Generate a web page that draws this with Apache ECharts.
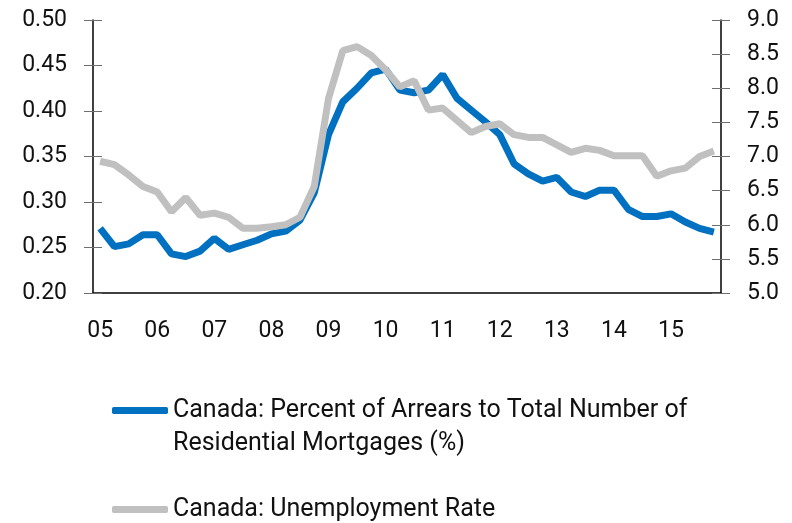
<!DOCTYPE html>
<html>
<head>
<meta charset="utf-8">
<script src="https://cdn.jsdelivr.net/npm/echarts@6/dist/echarts.min.js"></script>
<style>
html,body{margin:0;padding:0;background:#fff;}
#chart{width:792px;height:523px;}
</style>
</head>
<body>
<div id="chart"></div>
<script>
var years=['05','06','07','08','09','10','11','12','13','14','15'];
var quarters=[];
for(var y=0;y<years.length;y++){
	for(var q=1;q<=4;q++){ quarters.push(years[y]+'Q'+q); }
}
// arrears, % of residential mortgages (left axis)
var arrears=[0.271,0.251,0.254,0.264,0.264,0.243,0.240,0.246,0.260,0.248,0.253,0.258,
	0.265,0.268,0.280,0.310,0.374,0.410,0.425,0.442,0.446,0.423,0.420,0.423,
	0.440,0.414,0.401,0.388,0.374,0.342,0.331,0.323,0.327,0.311,0.306,0.313,
	0.313,0.292,0.284,0.284,0.287,0.278,0.271,0.267];
// unemployment rate, % (right axis)
var unemployment=[6.93,6.88,6.73,6.56,6.48,6.19,6.40,6.14,6.17,6.11,5.95,5.95,
	5.97,6.00,6.11,6.56,7.85,8.55,8.61,8.48,8.27,8.02,8.11,7.68,
	7.71,7.53,7.35,7.44,7.48,7.32,7.28,7.28,7.17,7.06,7.12,7.09,
	7.01,7.01,7.01,6.71,6.79,6.83,7.00,7.08];
var arrearsName='Canada: Percent of Arrears to Total Number of Residential Mortgages (%)';
var unempName='Canada: Unemployment Rate';

var font='Roboto';
var tickColor='#6e6e6e';
var el=echarts.init(document.getElementById('chart'));
var elData={
	animation:false,
	grid:{left:93,right:71,top:20,bottom:230,containLabel:false,outerBoundsMode:'none'},
	legend:[
		{
			// blank first line so the icon sits beside the first text line
			data:[arrearsName],left:112,top:361,padding:0,
			orient:'vertical',icon:'roundRect',itemWidth:56,itemHeight:7,
			formatter:function(){ return ' \nCanada: Percent of Arrears to Total Number of\nResidential Mortgages (%)'; },
			textStyle:{fontFamily:font,fontSize:25,color:'#111',lineHeight:33}
		},
		{
			data:[unempName],left:112,top:493,padding:0,
			orient:'vertical',icon:'roundRect',itemWidth:56,itemHeight:7,
			textStyle:{fontFamily:font,fontSize:25,color:'#111',lineHeight:33}
		}
	],
	xAxis:[
		{
			type:'category',data:quarters,boundaryGap:true,
			axisLine:{lineStyle:{color:'#000',width:1.5}},
			axisTick:{interval:3,length:9,lineStyle:{color:tickColor}},
			axisLabel:{interval:3,margin:27,fontFamily:font,fontSize:23,color:'#111',
				formatter:function(v){ return v.slice(0,2); }},
			splitLine:{show:false}
		},
		{
			type:'category',data:quarters,boundaryGap:true,position:'bottom',
			axisLine:{show:false},
			axisTick:{interval:3,length:9,inside:true,lineStyle:{color:tickColor}},
			axisLabel:{show:false},splitLine:{show:false}
		}
	],
	yAxis:[
		{
			type:'value',position:'left',min:0.2,max:0.5,interval:0.05,
			axisLine:{show:true,lineStyle:{color:'#000',width:1.5}},
			axisTick:{show:true,length:9,lineStyle:{color:tickColor}},
			axisLabel:{margin:26,fontFamily:font,fontSize:23,color:'#111',
				formatter:function(v){ return v.toFixed(2); }},
			splitLine:{show:false}
		},
		{
			type:'value',position:'right',min:5,max:9,interval:0.5,
			axisLine:{show:true,lineStyle:{color:'#000',width:1.5}},
			axisTick:{show:true,length:9,lineStyle:{color:tickColor}},
			axisLabel:{margin:26,fontFamily:font,fontSize:23,color:'#111',
				formatter:function(v){ return v.toFixed(1); }},
			splitLine:{show:false}
		},
		{
			type:'value',position:'left',min:0.2,max:0.5,interval:0.05,
			axisLine:{show:false},axisLabel:{show:false},splitLine:{show:false},
			axisTick:{show:true,inside:true,length:9,lineStyle:{color:tickColor}}
		},
		{
			type:'value',position:'right',min:5,max:9,interval:0.5,
			axisLine:{show:false},axisLabel:{show:false},splitLine:{show:false},
			axisTick:{show:true,inside:true,length:9,lineStyle:{color:tickColor}}
		}
	],
	series:[
		{
			name:arrearsName,type:'line',xAxisIndex:0,yAxisIndex:0,
			data:arrears,showSymbol:false,symbol:'none',
			itemStyle:{color:'#0070c0'},
			lineStyle:{color:'#0070c0',width:7}
		},
		{
			name:unempName,type:'line',xAxisIndex:0,yAxisIndex:1,
			data:unemployment,showSymbol:false,symbol:'none',
			itemStyle:{color:'#c0c0c0'},
			lineStyle:{color:'#c0c0c0',width:7}
		}
	]
};
el.setOption(elData);
</script>
</body>
</html>
